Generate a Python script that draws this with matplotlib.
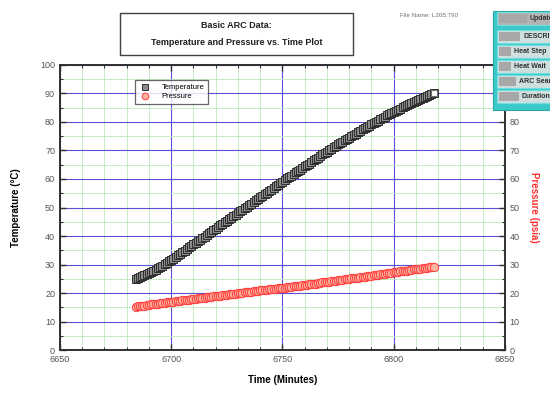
import matplotlib
matplotlib.use("Agg")
import matplotlib.pyplot as plt
from matplotlib.patches import Rectangle
from matplotlib.ticker import MultipleLocator, FixedFormatter, FixedLocator

plt.rcParams['font.family'] = ['Liberation Sans', 'DejaVu Sans']

# ARC run data, one reading per minute: time (min), temperature (deg C), pressure (psia)
time_min = list(range(6684, 6819))
temperature = [
    25.0, 25.3, 25.6, 25.9, 26.3, 26.6, 27.0, 27.4, 27.8, 28.2, 28.7, 29.1, 29.6, 30.1, 30.6, 31.1, 31.6,
    32.1, 32.7, 33.2, 33.8, 34.3, 34.9, 35.4, 36.0, 36.5, 37.1,
    37.6, 38.2, 38.7, 39.3, 39.8, 40.4, 40.9, 41.5, 42.0, 42.6,
    43.1, 43.7, 44.2, 44.8, 45.3, 45.9, 46.4, 47.0, 47.5, 48.1,
    48.6, 49.2, 49.7, 50.3, 50.8, 51.4, 51.9, 52.5, 53.0, 53.6,
    54.1, 54.7, 55.2, 55.8, 56.3, 56.9, 57.4, 58.0, 58.5, 59.1,
    59.6, 60.2, 60.7, 61.2, 61.7, 62.3, 62.8, 63.3, 63.8, 64.4,
    64.9, 65.4, 65.9, 66.5, 67.0, 67.5, 68.0, 68.6, 69.1, 69.6,
    70.1, 70.6, 71.1, 71.6, 72.1, 72.6, 73.1, 73.6, 74.0, 74.5,
    75.0, 75.5, 75.9, 76.4, 76.9, 77.4, 77.8, 78.3, 78.7, 79.2,
    79.6, 80.1, 80.5, 81.0, 81.4, 81.9, 82.3, 82.7, 83.1, 83.5,
    83.9, 84.3, 84.7, 85.1, 85.5, 85.9, 86.2, 86.6, 86.9, 87.3,
    87.6, 88.0, 88.3, 88.7, 89.0, 89.4, 89.7, 90.0]
pressure = [
    15.2, 15.3, 15.4, 15.5, 15.6, 15.8, 15.9, 16.0, 16.1, 16.2, 16.3, 16.4, 16.5, 16.6, 16.7, 16.8, 16.9,
    17.0, 17.1, 17.2, 17.3, 17.4, 17.5, 17.6, 17.7, 17.8, 17.9,
    18.0, 18.1, 18.2, 18.3, 18.4, 18.5, 18.6, 18.7, 18.8, 18.9,
    19.0, 19.1, 19.2, 19.3, 19.4, 19.5, 19.6, 19.7, 19.8, 19.9,
    20.0, 20.1, 20.2, 20.3, 20.4, 20.5, 20.6, 20.7, 20.8, 20.9,
    21.0, 21.1, 21.2, 21.3, 21.4, 21.5, 21.5, 21.6, 21.7, 21.8,
    21.9, 22.0, 22.1, 22.2, 22.3, 22.4, 22.5, 22.6, 22.7, 22.8,
    22.9, 23.0, 23.1, 23.2, 23.3, 23.4, 23.5, 23.7, 23.8, 23.9,
    24.0, 24.1, 24.2, 24.3, 24.4, 24.5, 24.6, 24.8, 24.9, 25.0,
    25.1, 25.2, 25.3, 25.4, 25.5, 25.7, 25.8, 25.9, 26.0, 26.1,
    26.2, 26.3, 26.4, 26.6, 26.7, 26.8, 26.9, 27.0, 27.1, 27.3,
    27.4, 27.5, 27.6, 27.7, 27.8, 27.9, 28.0, 28.2, 28.3, 28.4,
    28.5, 28.6, 28.7, 28.8, 28.9, 29.0, 29.1, 29.2]

x_ticks = [6650, 6700, 6750, 6800, 6850]
y_ticks = [0, 10, 20, 30, 40, 50, 60, 70, 80, 90, 100]
right_labels = ['0', '10', '20', '30', '40', '50', '60', '70', '80', '', '']
panel_rows = ["Update", "DESCRIPTION", "Heat Step", "Heat Wait", "ARC Search", "Duration"]

fig = plt.figure(figsize=(5.5, 3.96), dpi=100)
ax = fig.add_axes([0.109, 0.116, 0.809, 0.72])
ax2 = ax.twinx()

ax.set_xlim(x_ticks[0], x_ticks[-1])
ax.set_ylim(y_ticks[0], y_ticks[-1])
ax2.set_ylim(y_ticks[0], y_ticks[-1])
ax.set_xticks(x_ticks)
ax.set_yticks(y_ticks)
ax2.yaxis.set_major_locator(FixedLocator(y_ticks))
ax2.yaxis.set_major_formatter(FixedFormatter(right_labels))
ax.xaxis.set_minor_locator(MultipleLocator(10))
ax.yaxis.set_minor_locator(MultipleLocator(5))
ax2.yaxis.set_minor_locator(MultipleLocator(5))

ax.grid(which='minor', color='#bdeabd', linewidth=0.6, zorder=0)
ax.grid(which='major', color='#5a50d4', linewidth=0.8, zorder=0)
ax.set_axisbelow(True)

for a in (ax, ax2):
    for s in a.spines.values():
        s.set_color('#303030')
        s.set_linewidth(1.2)
ax.tick_params(which='both', direction='in', top=True, colors='#303030',
               labelsize=6.5, labelcolor='#555555')
ax.tick_params(which='major', length=4, width=1)
ax.tick_params(which='minor', length=2.5, width=0.8)
ax2.tick_params(which='both', direction='in', colors='#303030',
                labelsize=6.5, labelcolor='#555555')
ax2.tick_params(which='major', length=4, width=1)
ax2.tick_params(which='minor', length=2.5, width=0.8)

ax.plot(time_min, temperature, linestyle='none', marker='s', markersize=6,
        markerfacecolor='#8c8c8c', markeredgecolor='#2e2e2e', markeredgewidth=0.7,
        label='Temperature', zorder=3)
ax2.plot(time_min, pressure, linestyle='none', marker='o', markersize=6,
         markerfacecolor='#ffb4a0', markeredgecolor='#ff3c3c', markeredgewidth=0.7,
         label='Pressure', zorder=3)
ax.plot([time_min[-1]], [temperature[-1]], linestyle='none', marker='s', markersize=5,
        markerfacecolor='white', markeredgecolor='#707070', markeredgewidth=0.8, zorder=4)

ax.set_xlabel('Time (Minutes)', fontsize=7, fontweight='bold', labelpad=8)
ax.set_ylabel('Temperature (\u00b0C)', fontsize=7, fontweight='bold', labelpad=14)
ax2.set_ylabel('Pressure (psia)', fontsize=7, fontweight='bold', color='#ff3030',
               rotation=270, labelpad=14)

h1, l1 = ax.get_legend_handles_labels()
h2, l2 = ax2.get_legend_handles_labels()
leg = ax2.legend(h1[:1] + h2, l1[:1] + l2, loc='upper left',
                 bbox_to_anchor=(0.16, 0.96), fontsize=5.5, frameon=True,
                 fancybox=False, edgecolor='#404040', handletextpad=1.5,
                 borderpad=0.5, labelspacing=0.2, handlelength=1.5,
                 markerscale=0.8)
leg.get_frame().set_linewidth(0.9)

# Title box
fig.add_artist(Rectangle((0.218, 0.861), 0.424, 0.106, transform=fig.transFigure,
                         facecolor='white', edgecolor='#404040', linewidth=1.0))
fig.text(0.43, 0.936, 'Basic ARC Data:', ha='center', va='center',
         fontsize=6.5, fontweight='bold', color='#202020')
fig.text(0.43, 0.892, 'Temperature and Pressure vs. Time Plot', ha='center',
         va='center', fontsize=6.5, fontweight='bold', color='#202020')
fig.text(0.727, 0.962, 'File Name: L205.790', ha='left', va='center',
         fontsize=4.5, color='#707070')

# Side control panel
px0 = 493 / 550
fig.add_artist(Rectangle((px0, 1 - 110 / 396), 1 - px0, (110 - 11) / 396,
                         transform=fig.transFigure, facecolor='#3cc8c8',
                         edgecolor='#2aa8a8', linewidth=0.8, zorder=10))
row_tops = [12, 30, 45, 60, 75, 90]
row_h = 13
text_x = [530, 523, 514, 514, 519, 522]
for i, (name, top) in enumerate(zip(panel_rows, row_tops)):
    y0 = 1 - (top + row_h) / 396
    face = '#b4b4b4' if i == 0 else '#cfdede'
    fig.add_artist(Rectangle((497 / 550, y0), 60 / 550, row_h / 396,
                             transform=fig.transFigure, facecolor=face,
                             edgecolor='#6ee0e0', linewidth=0.8, zorder=11))
    box_w = (text_x[i] - 502) / 550
    fig.add_artist(Rectangle((499 / 550, y0 + 2 / 396), box_w, (row_h - 4) / 396,
                             transform=fig.transFigure, facecolor='#a8a8a8',
                             edgecolor='none', zorder=12))
    fig.text(text_x[i] / 550, y0 + row_h / 2 / 396, name, ha='left', va='center',
             fontsize=5, fontweight='bold', color='#303030', zorder=13)

fig.savefig('out.png', dpi=100)
